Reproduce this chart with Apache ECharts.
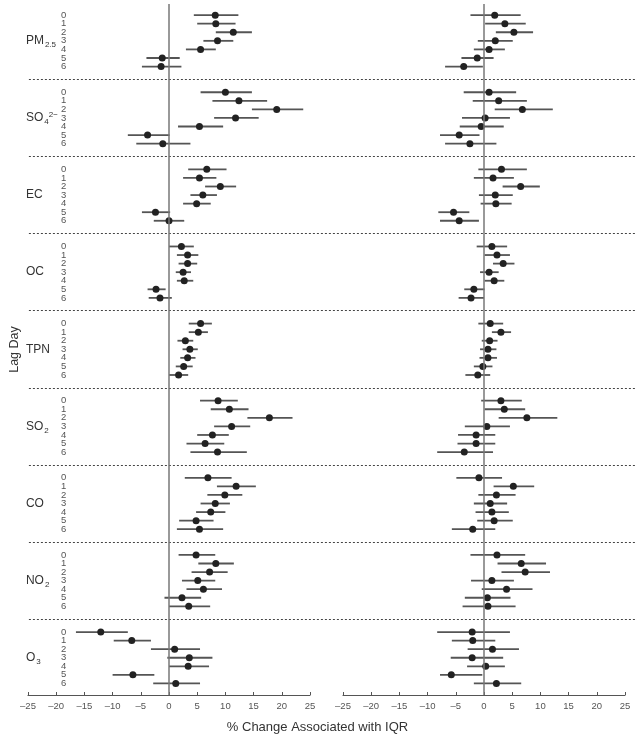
<!DOCTYPE html>
<html><head><meta charset="utf-8">
<script src="https://cdn.jsdelivr.net/npm/echarts@6/dist/echarts.min.js"></script>
<style>html,body{margin:0;padding:0;background:#fff}#c{width:635px;height:736px}</style>
</head><body><div id="c"></div>
<script>
const groups = ['PM2.5','SO4','EC','OC','TPN','SO2','CO','NO2','O3'];
const groupLabels = ['{m|PM}{s|2.5}','{m|SO}{s|4}{p|2−}','{m|EC}','{m|OC}','{m|TPN}','{m|SO}{s|2}','{m|CO}','{m|NO}{s|2}','{m|O}{s|3}'];
const lags = [0,1,2,3,4,5,6];
const xTicks = [-25,-20,-15,-10,-5,0,5,10,15,20,25];

const leftEst = [
 [8.2,8.3,11.4,8.6,5.6,-1.2,-1.4],
 [10.0,12.4,19.1,11.8,5.4,-3.8,-1.1],
 [6.7,5.4,9.1,6.0,4.9,-2.4,0.0],
 [2.2,3.3,3.3,2.5,2.7,-2.3,-1.6],
 [5.6,5.2,2.9,3.7,3.3,2.6,1.7],
 [8.7,10.7,17.8,11.1,7.7,6.4,8.6],
 [6.9,11.9,9.9,8.2,7.4,4.8,5.4],
 [4.8,8.3,7.2,5.1,6.1,2.3,3.5],
 [-12.1,-6.6,1.0,3.6,3.4,-6.4,1.2]
];
const leftLo = [
 [4.4,5.0,8.3,6.1,3.0,-4.0,-4.8],
 [5.6,7.7,14.7,8.0,1.6,-7.3,-5.8],
 [3.4,2.5,6.4,3.8,2.5,-4.8,-2.7],
 [0.0,1.4,1.7,1.2,1.4,-3.8,-3.6],
 [3.5,3.5,1.5,2.4,2.0,1.2,0.0],
 [5.5,7.4,13.9,8.0,5.0,3.1,3.8],
 [2.8,8.5,6.8,5.6,4.8,1.8,1.4],
 [1.7,5.2,4.0,2.3,3.1,-0.8,0.0],
 [-16.5,-9.8,-3.2,-0.3,0.0,-10.0,-2.8]
];
const leftHi = [
 [12.3,11.8,14.7,11.4,8.3,1.9,2.2],
 [14.7,17.4,23.8,15.9,9.6,0.1,3.8],
 [10.2,8.4,11.9,8.5,7.4,0.2,2.7],
 [4.4,5.2,5.0,3.9,4.3,-0.6,0.5],
 [7.6,6.9,4.3,5.1,4.7,4.2,3.4],
 [12.2,14.1,21.9,14.4,10.6,9.8,13.8],
 [11.1,15.4,13.0,10.8,10.0,7.9,9.6],
 [8.2,11.5,10.4,8.2,9.4,5.7,7.3],
 [-7.3,-3.2,5.5,7.7,7.1,-2.6,5.5]
];
const rightEst = [
 [1.9,3.7,5.3,2.0,0.9,-1.2,-3.6],
 [0.9,2.6,6.8,0.2,-0.5,-4.4,-2.5],
 [3.1,1.6,6.5,2.0,2.1,-5.4,-4.4],
 [1.4,2.3,3.4,0.9,1.8,-1.8,-2.3],
 [1.1,3.0,1.0,0.7,0.7,-0.2,-1.1],
 [3.0,3.6,7.6,0.5,-1.4,-1.4,-3.5],
 [-0.9,5.2,2.2,1.1,1.4,1.8,-2.0],
 [2.3,6.6,7.3,1.4,4.0,0.6,0.7],
 [-2.1,-2.0,1.5,-2.1,0.3,-5.8,2.2]
];
const rightLo = [
 [-2.4,0.2,2.1,-1.1,-1.8,-4.0,-6.9],
 [-3.6,-2.0,1.9,-3.9,-4.3,-7.8,-6.9],
 [-1.0,-1.8,3.3,-0.9,-0.6,-8.1,-7.8],
 [-1.3,0.1,1.6,-0.7,0.1,-3.5,-4.5],
 [-1.0,1.4,-0.4,-0.7,-0.8,-1.8,-3.3],
 [-0.5,0.1,2.6,-3.4,-4.6,-4.7,-8.3],
 [-4.9,1.7,-1.0,-1.8,-1.5,-1.2,-5.7],
 [-2.4,2.4,3.1,-2.3,-0.4,-3.4,-3.8],
 [-8.3,-5.7,-2.9,-5.9,-3.0,-7.8,-1.8]
];
const rightHi = [
 [6.5,7.4,8.7,5.1,3.7,1.7,-0.2],
 [5.7,7.6,12.2,4.6,3.5,-0.8,2.2],
 [7.6,5.3,9.9,5.1,4.9,-2.6,-0.9],
 [4.1,4.6,5.4,2.6,3.6,0.1,0.0],
 [3.4,4.8,2.4,2.2,2.3,1.5,1.1],
 [6.7,7.3,13.0,4.6,2.0,2.0,1.6],
 [3.2,8.9,5.6,4.1,4.4,5.1,2.0],
 [7.3,11.0,11.7,5.3,8.6,4.7,5.6],
 [4.6,2.0,6.2,3.4,3.7,-0.3,6.6]
];

const ROWS_PER_GROUP = lags.length + 2;
const rowOf = (g, l) => g * ROWS_PER_GROUP + l;
const Y_MIN = -1.3, Y_MAX = 79.35;
const FONT = '"Liberation Sans", Arial, sans-serif';

function barData(lo, hi) {
  const out = [];
  groups.forEach((_, g) => lags.forEach((l, i) => out.push([lo[g][i], hi[g][i], rowOf(g, l)])));
  return out;
}
function ptData(est) {
  const out = [];
  groups.forEach((_, g) => lags.forEach((l, i) => out.push([est[g][i], rowOf(g, l)])));
  return out;
}
const sepValues = groups.slice(0, -1).map((_, g) => g * ROWS_PER_GROUP + lags.length + 0.5);
const evenRows = [], oddRows = [], groupRows = [];
groups.forEach((_, g) => {
  lags.forEach(l => (l % 2 === 0 ? evenRows : oddRows).push(rowOf(g, l)));
  groupRows.push(rowOf(g, 3));
});

function renderBar(params, api) {
  const p1 = api.coord([api.value(0), api.value(2)]);
  const p2 = api.coord([api.value(1), api.value(2)]);
  return { type: 'line', shape: { x1: p1[0], y1: p1[1], x2: p2[0], y2: p2[1] },
           style: { stroke: '#555', lineWidth: 1.8 } };
}

const xAxisCommon = {
  type: 'value', min: -25, max: 25, interval: 5, position: 'bottom',
  axisLine: { onZero: false, lineStyle: { color: '#555', width: 1.2 } },
  axisTick: { inside: true, length: 3, lineStyle: { color: '#555' } },
  axisLabel: { color: '#555', fontSize: 9.5, fontFamily: FONT, margin: 6,
               formatter: v => String(v).replace('-', '–') },
  splitLine: { show: false }
};
const yHidden = { type: 'value', inverse: true, min: Y_MIN, max: Y_MAX, show: false, splitLine: { show: false } };

function lagAxis(rows, extra) {
  return Object.assign({
    gridIndex: 2, type: 'value', inverse: true, min: Y_MIN, max: Y_MAX, position: 'left', offset: 0,
    axisLine: { show: false, onZero: false }, axisTick: { show: false }, splitLine: { show: false },
    axisLabel: { inside: true, margin: 32, customValues: rows, color: '#555', fontSize: 9.5,
                 showMinLabel: true, showMaxLabel: true, fontFamily: FONT,
                 formatter: v => String(Math.round(v) % ROWS_PER_GROUP) }
  }, extra || {});
}

const option = {
  animation: false,
  backgroundColor: '#fff',
  textStyle: { fontFamily: FONT },
  title: { text: '% Change Associated with IQR', left: 'center', top: 716,
           textStyle: { fontSize: 13, fontWeight: 'normal', color: '#333', fontFamily: FONT } },
  grid: [
    { left: 28, width: 282, top: 4, height: 691 },
    { left: 343, width: 282, top: 4, height: 691 },
    { left: 26, right: 0, top: 4, height: 691 }
  ],
  xAxis: [
    Object.assign({ gridIndex: 0 }, xAxisCommon),
    Object.assign({ gridIndex: 1 }, xAxisCommon),
    { gridIndex: 2, type: 'value', min: 0, max: 1, show: false }
  ],
  yAxis: [
    Object.assign({ gridIndex: 0 }, yHidden),
    Object.assign({ gridIndex: 1 }, yHidden),
    lagAxis(evenRows, { name: 'Lag Day', nameLocation: 'middle', nameGap: 7, nameRotate: 90,
      nameTextStyle: { fontSize: 12.5, color: '#333', fontFamily: FONT } }),
    lagAxis(oddRows),
    { gridIndex: 2, type: 'value', inverse: true, min: Y_MIN, max: Y_MAX, position: 'left', offset: 0,
      axisLine: { show: false, onZero: false }, axisTick: { show: false }, splitLine: { show: false },
      axisLabel: { inside: true, margin: -3, customValues: groupRows, showMinLabel: true, showMaxLabel: true,
        formatter: v => groupLabels[Math.round((v - 3) / ROWS_PER_GROUP)],
        rich: {
          m: { fontSize: 12, color: '#333', fontFamily: FONT },
          s: { fontSize: 8, color: '#333', fontFamily: FONT, padding: [8, 0, 0, 1] },
          p: { fontSize: 8, color: '#333', fontFamily: FONT, padding: [0, 0, 7, 0] }
        } } }
  ],
  series: [
    { type: 'scatter', xAxisIndex: 2, yAxisIndex: 2, data: [], silent: true,
      markLine: { silent: true, symbol: 'none', label: { show: false },
        lineStyle: { type: [2, 2], color: '#444', width: 1 },
        data: sepValues.map(v => ({ yAxis: v })) } },
    { type: 'custom', xAxisIndex: 0, yAxisIndex: 0, renderItem: renderBar,
      encode: { x: [0, 1], y: 2 }, data: barData(leftLo, leftHi), z: 2,
      markLine: { silent: true, symbol: 'none', label: { show: false },
        lineStyle: { type: 'solid', color: '#777', width: 1.5 }, data: [{ xAxis: 0 }] } },
    { type: 'custom', xAxisIndex: 1, yAxisIndex: 1, renderItem: renderBar,
      encode: { x: [0, 1], y: 2 }, data: barData(rightLo, rightHi), z: 2,
      markLine: { silent: true, symbol: 'none', label: { show: false },
        lineStyle: { type: 'solid', color: '#777', width: 1.5 }, data: [{ xAxis: 0 }] } },
    { type: 'scatter', xAxisIndex: 0, yAxisIndex: 0, data: ptData(leftEst), symbolSize: 7,
      itemStyle: { color: '#222', opacity: 1 }, z: 3 },
    { type: 'scatter', xAxisIndex: 1, yAxisIndex: 1, data: ptData(rightEst), symbolSize: 7,
      itemStyle: { color: '#222', opacity: 1 }, z: 3 }
  ]
};
const chart = echarts.init(document.getElementById('c'), null, { renderer: 'canvas' });
chart.setOption(option);
</script></body></html>
